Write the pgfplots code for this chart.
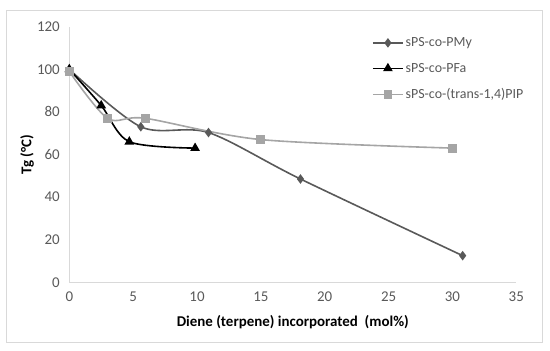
\documentclass[border=0pt]{standalone}
\usepackage{fontspec}
\setmainfont{Carlito}
\usepackage{pgfplots}
\pgfplotsset{compat=1.18}
\definecolor{cMy}{HTML}{595959}
\definecolor{cPIP}{HTML}{A5A5A5}
\definecolor{cAx}{HTML}{D9D9D9}
\definecolor{cTk}{HTML}{595959}
\begin{document}
\begin{tikzpicture}
\begin{axis}[name=ax,
  scale only axis, width=447bp, height=255.6bp,
  xmin=0, xmax=35, ymin=0, ymax=120,
  xtick={0,5,...,35}, ytick={0,20,...,120},
  axis x line=bottom, axis y line=left,
  axis line style={-, cAx, line width=0.8bp},
  major tick length=0pt,
  tick label style={font=\fontsize{15}{17}\selectfont, text=cTk},
  /pgf/number format/assume math mode=true,
  xticklabel style={yshift=-6bp},
  yticklabel style={xshift=-6bp},
  xlabel={Diene (terpene) incorporated\ \ (mol\%)},
  ylabel={Tg (°C)},
  label style={font=\fontsize{15}{17}\selectfont\bfseries},
  xlabel style={at={(axis description cs:0.5,-0.154)}, anchor=center},
  ylabel style={at={(axis description cs:-0.0946,0.5)}, anchor=center},
  legend image code/.code={\draw[mark repeat=2,mark phase=2] plot coordinates {(0bp,0bp)(15bp,0bp)(30bp,0bp)};},
  legend cell align=left,
  legend style={at={(rel axis cs:0.677,0.966)}, anchor=north west, draw=none, fill=none,
    font=\fontsize{14}{16}\selectfont, text=cTk, row sep=11bp, inner sep=0pt,
    nodes={inner sep=2bp}},
]
\addplot[cMy, line width=1.6bp, smooth, tension=0.5, mark=diamond*, mark size=3.5bp, mark options={solid}]
  coordinates {(0,100) (5.6,73) (10.9,70.3) (18.1,48.5) (30.8,12.5)};
\addlegendentry{sPS-co-PMy}
\addplot[black, line width=1.6bp, smooth, tension=0.5, mark=triangle*, mark size=4bp, mark options={solid}]
  coordinates {(0,100) (2.5,83) (4.7,66) (9.85,63)};
\addlegendentry{sPS-co-PFa}
\addplot[cPIP, line width=1.6bp, smooth, tension=0.5, mark=square*, mark size=3.6bp, mark options={solid}]
  coordinates {(0,99) (3.0,77) (5.95,77) (15.0,67) (30,63)};
\addlegendentry{sPS-co-(trans-1,4)PIP}
\end{axis}
\pgfresetboundingbox
\path[use as bounding box] ([shift={(-69.3bp,-68.7bp)}]ax.south west) rectangle ([shift={(480.7bp,282.3bp)}]ax.south west);
\draw[cAx, line width=0.8bp] ([shift={(-63bp,-60.4bp)}]ax.south west) rectangle ([shift={(473.4bp,272.3bp)}]ax.south west);
\end{tikzpicture}
\end{document}
